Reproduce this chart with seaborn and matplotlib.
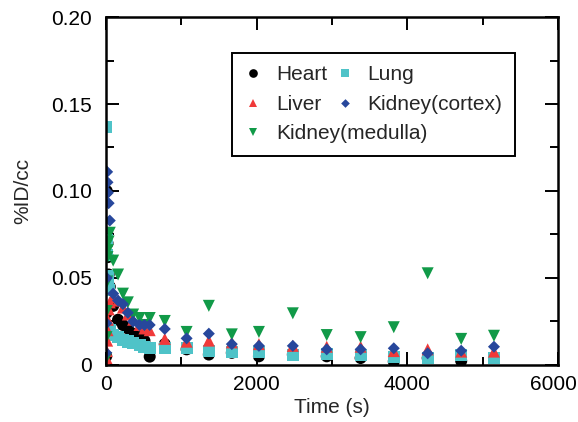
import numpy as np
import pandas as pd
import matplotlib
matplotlib.use('Agg')
import matplotlib.pyplot as plt
import matplotlib.ticker as mticker
from matplotlib.transforms import IdentityTransform, ScaledTranslation
import seaborn as sns

# sampling times (s), shared by all tissues
times = [3, 6, 10, 15, 20, 25, 35, 50, 95, 160, 225, 290, 360, 445, 510, 580,
         780, 1070, 1365, 1670, 2030, 2480, 2930, 3380, 3820, 4270, 4715, 5150]

heart = [0.005, 0.030, 0.100, 0.076, 0.070, 0.062, 0.052, 0.045, 0.034, 0.026, 0.023, 0.021, 0.018, 0.016, 0.014, 0.0048,
         0.012, 0.009, 0.006, 0.007, 0.005, 0.006, 0.005, 0.004, 0.002, 0.004, 0.0023, 0.004]
lung = [0.020, 0.137, 0.072, 0.063, 0.051, 0.046, 0.043, 0.020, 0.017, 0.016, 0.0145, 0.0135, 0.0125, 0.0115, 0.0105, 0.0095,
        0.0098, 0.0098, 0.008, 0.0077, 0.0073, 0.0057, 0.0063, 0.0057, 0.0048, 0.004, 0.0057, 0.0042]
liver = [0.001, 0.004, 0.008, 0.014, 0.020, 0.026, 0.032, 0.036, 0.039, 0.037, 0.033, 0.029, 0.026, 0.023, 0.021, 0.020,
         0.015, 0.0134, 0.014, 0.013, 0.012, 0.011, 0.0105, 0.0105, 0.008, 0.009, 0.0077, 0.0077]
medulla = [0.004, 0.016, 0.031, 0.048, 0.062, 0.066, 0.071, 0.076, 0.060, 0.052, 0.041, 0.036, 0.029, 0.027, 0.023, 0.027,
           0.0253, 0.019, 0.034, 0.0176, 0.019, 0.0297, 0.0172, 0.016, 0.0217, 0.0527, 0.015, 0.0168]
cortex = [0.007, 0.024, 0.050, 0.111, 0.105, 0.099, 0.093, 0.083, 0.041, 0.037, 0.035, 0.030, 0.025, 0.023, 0.023, 0.023,
          0.0207, 0.0153, 0.018, 0.012, 0.011, 0.011, 0.009, 0.009, 0.0096, 0.0067, 0.0082, 0.0105]

tissues = ['Heart', 'Lung', 'Liver', 'Kidney(medulla)', 'Kidney(cortex)']
series = [heart, lung, liver, medulla, cortex]

colors = {'Heart': '#000000', 'Lung': '#4fc3c8', 'Liver': '#f03a3a',
          'Kidney(cortex)': '#27479c', 'Kidney(medulla)': '#119a48'}
diamond = [(0, 1), (1, 0), (0, -1), (-1, 0)]
markers = {'Heart': 'o', 'Lung': 's', 'Liver': '^',
           'Kidney(cortex)': diamond, 'Kidney(medulla)': 'v'}

df = pd.concat([pd.DataFrame({'time': times, 'value': v, 'tissue': t})
                for t, v in zip(tissues, series)], ignore_index=True)

sns.set_style('ticks')
plt.rcParams['font.family'] = ['Liberation Sans', 'DejaVu Sans']
plt.rcParams['font.size'] = 15

fig = plt.figure(figsize=(5.78, 4.22), dpi=100)
ax = fig.add_axes([0.1834, 0.1351, 0.782, 0.8246])

sns.scatterplot(data=df, x='time', y='value', hue='tissue', style='tissue',
                palette=colors, markers=markers, s=75, linewidth=0, ax=ax)

ax.set_xlim(0, 6000)
ax.set_ylim(0, 0.2)
ax.xaxis.set_major_locator(mticker.MultipleLocator(2000))
ax.xaxis.set_minor_locator(mticker.MultipleLocator(1000))
ax.yaxis.set_major_locator(mticker.MultipleLocator(0.05))
ax.yaxis.set_minor_locator(mticker.MultipleLocator(0.025))
ax.xaxis.set_major_formatter(mticker.FuncFormatter(lambda v, p: '%d' % v))
ax.yaxis.set_major_formatter(mticker.FuncFormatter(lambda v, p: '0' if v == 0 else '%.2f' % v))

ax.tick_params(which='both', direction='in', top=True, right=True, width=1.4, labelsize=15, colors='black')
ax.tick_params(which='major', length=9.5)
ax.tick_params(which='minor', length=5.8)
ax.tick_params(axis='y', pad=10)
ax.tick_params(axis='x', pad=7)
for sp in ax.spines.values():
    sp.set_linewidth(1.8)
    sp.set_color('black')

ax.set_xlabel('Time (s)', fontsize=15, labelpad=3)
ax.set_ylabel('%ID/cc', fontsize=15, labelpad=14)

# legend: two columns, the long medulla label is drawn across both columns
handles, labels = ax.get_legend_handles_labels()
hmap = dict(zip(labels, handles))
order = ['Heart', 'Liver', 'Kidney(medulla)', 'Lung', 'Kidney(cortex)']
shown = ['Heart', 'Liver', ' ', 'Lung', 'Kidney(cortex)']
leg = ax.legend([hmap[k] for k in order], shown, ncol=2, loc='upper left',
                bbox_to_anchor=(0.279, 0.8966), borderaxespad=0, fontsize=15,
                frameon=True, fancybox=False, edgecolor='black', framealpha=1,
                handlelength=0.8, handletextpad=0.7, columnspacing=0.45,
                borderpad=0.6, labelspacing=0.5, markerscale=0.72)
leg.get_frame().set_linewidth(1.4)

fig.canvas.draw()
# last x tick label sits a little left so it stays inside the figure
last = [t for t in ax.get_xticklabels() if t.get_text() == '6000'][0]
last.set_transform(last.get_transform() + ScaledTranslation(-0.05, 0, fig.dpi_scale_trans))

bb = leg.get_texts()[2].get_window_extent()
fig.text(bb.x0, bb.y0, 'Kidney(medulla)', fontsize=15, ha='left', va='bottom',
         transform=IdentityTransform())

fig.savefig('out.png', dpi=100)
